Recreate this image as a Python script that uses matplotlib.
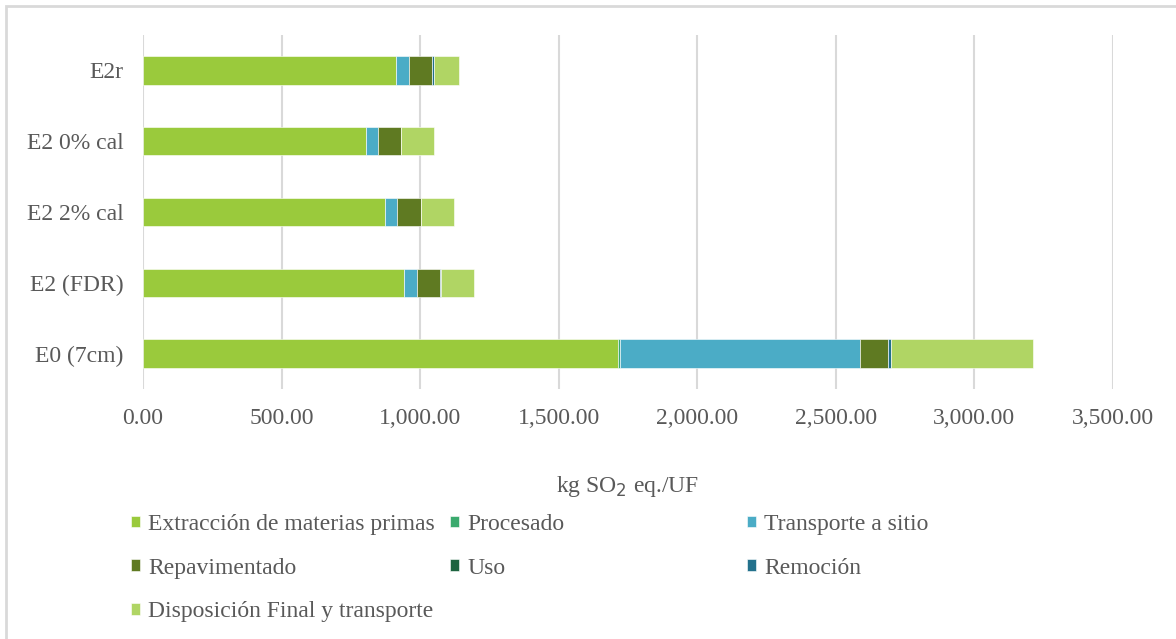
import matplotlib.pyplot as plt
from matplotlib.patches import Rectangle

plt.rcParams['font.family'] = ['Liberation Serif', 'DejaVu Serif']

# Escenarios (de abajo hacia arriba)
escenarios = ['E0 (7cm)', 'E2 (FDR)', 'E2 2% cal', 'E2 0% cal', 'E2r']

# Valores por etapa (kg SO2 eq./UF)
extraccion = [1714, 942, 873, 805, 913]
procesado = [7, 0, 0, 0, 0]
transporte = [866, 47, 43, 42, 47]
repavimentado = [101, 83, 87, 84, 83]
uso = [0, 0, 0, 0, 0]
remocion = [10, 4, 0, 0, 7]
disposicion = [512, 119, 119, 119, 90]

etapas = [
    ('Extracción de materias primas', extraccion, '#9ACA3C'),
    ('Procesado', procesado, '#3BAA6E'),
    ('Transporte a sitio', transporte, '#4BACC6'),
    ('Repavimentado', repavimentado, '#5F7A22'),
    ('Uso', uso, '#1E6440'),
    ('Remoción', remocion, '#23718C'),
    ('Disposición Final y transporte', disposicion, '#B0D564'),
]

xticks = [0, 500, 1000, 1500, 2000, 2500, 3000, 3500]

texto = '#595959'
fs = 17
fig = plt.figure(figsize=(11.76, 6.39), dpi=100)
fig.patches.append(Rectangle((6 / 1176, -0.05), 1.05, 1 - 6 / 639 + 0.05,
                             transform=fig.transFigure, fill=False,
                             edgecolor='#D9D9D9', linewidth=2))
ax = fig.add_axes([143 / 1176, 1 - 389 / 639, 970 / 1176, 354 / 639])

y = list(range(len(escenarios)))
izq = [0] * len(escenarios)
handles = {}
for nombre, vals, color in etapas:
    b = ax.barh(y, vals, left=izq, height=0.4, color=color,
                edgecolor='white', linewidth=0.4, label=nombre)
    handles[nombre] = b
    izq = [a + v for a, v in zip(izq, vals)]

ax.set_xlim(0, 3500)
ax.set_ylim(-0.5, len(escenarios) - 0.5)
ax.set_xticks(xticks)
ax.set_xticklabels([f'{v:,.2f}' for v in xticks])
ax.set_yticks(y)
ax.set_yticklabels(escenarios)
ax.tick_params(axis='both', length=0, labelsize=fs, colors=texto)
ax.tick_params(axis='y', pad=14)
ax.tick_params(axis='x', pad=14)
ax.grid(axis='x', color='#D9D9D9', linewidth=1.5)
ax.set_axisbelow(True)
for s in ['top', 'right', 'bottom', 'left']:
    ax.spines[s].set_visible(False)
ax.set_xlabel('kg SO$_2$ eq./UF', fontsize=fs, color=texto, labelpad=32)

# leyenda en tres columnas fijas
columnas = [
    (['Extracción de materias primas', 'Repavimentado', 'Disposición Final y transporte'], 131),
    (['Procesado', 'Uso'], 450),
    (['Transporte a sitio', 'Remoción'], 747),
]
for nombres, xpix in columnas:
    leg = fig.legend([handles[n] for n in nombres], nombres,
                     loc='upper left', bbox_to_anchor=(xpix / 1176, 1 - 514 / 639),
                     frameon=False, fontsize=fs, handlelength=0.38,
                     handleheight=0.38, handletextpad=0.35, labelspacing=0.96,
                     borderaxespad=0, borderpad=0)
    for t in leg.get_texts():
        t.set_color(texto)

fig.savefig('out.png', dpi=100)
